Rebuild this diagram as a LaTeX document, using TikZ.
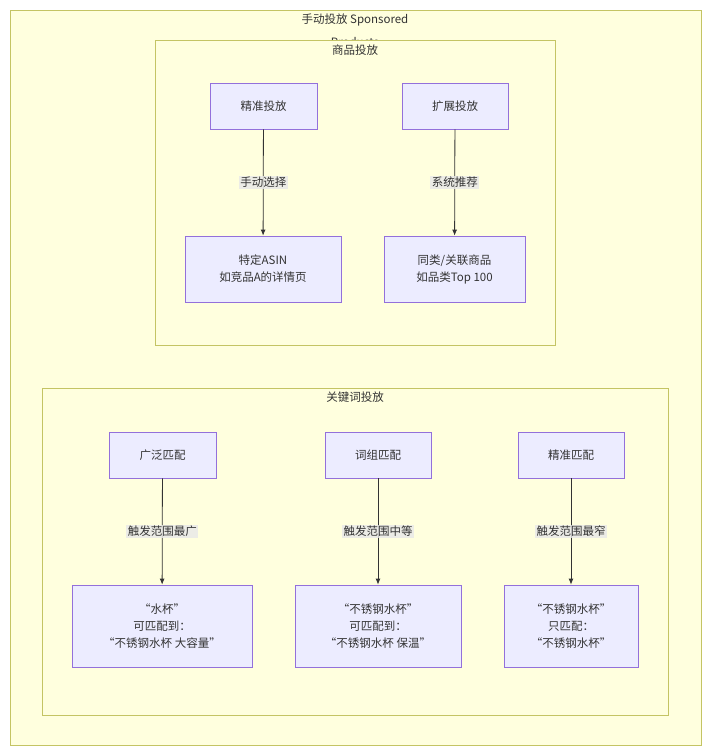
\documentclass[tikz,border=0pt]{standalone}
\usepackage{fontspec}
\setmainfont{Noto Sans CJK SC}
\begin{document}
\begin{tikzpicture}[x=1pt,y=-1pt,
  cl/.style={draw={rgb,255:red,196;green,196;blue,100},fill={rgb,255:red,255;green,255;blue,222},line width=0.8pt},
  nd/.style={draw={rgb,255:red,147;green,112;blue,219},fill={rgb,255:red,236;green,236;blue,255},line width=0.8pt,align=center,font=\fontsize{11.5}{17}\selectfont,text={rgb,255:red,51;green,51;blue,51}},
  lb/.style={fill={rgb,255:red,232;green,232;blue,232},fill opacity=0.8,text opacity=1,inner sep=1.5pt,font=\fontsize{11.5}{13}\selectfont,text={rgb,255:red,51;green,51;blue,51}},
  ti/.style={font=\fontsize{11.5}{13}\selectfont,text={rgb,255:red,51;green,51;blue,51}},
  ar/.style={draw={rgb,255:red,51;green,51;blue,51},line width=0.8pt,-{Latex[length=6pt,width=5pt]}}]
\usetikzlibrary{arrows.meta}
\useasboundingbox (0,0) rectangle (710,756);
\draw[cl] (10,10) rectangle (701,745);
\node[ti] (t0) at (355,20) {手动投放 Sponsored};
\node[ti] (t0b) at (355,42) {Products};
\draw[cl] (155,40) rectangle (555,345);
\node[ti] (t1) at (355,50) {商品投放};
\draw[cl] (42,388) rectangle (668,715);
\node[ti] (t2) at (355,397) {关键词投放};
\node[nd,minimum width=107pt,minimum height=46pt] (a1) at (263.5,106) {精准投放};
\node[nd,minimum width=106pt,minimum height=46pt] (a2) at (455,106) {扩展投放};
\node[nd,minimum width=156pt,minimum height=66pt] (b1) at (263,269) {特定ASIN\\如竞品A的详情页};
\node[nd,minimum width=141pt,minimum height=66pt] (b2) at (454.5,269) {同类/关联商品\\如品类Top 100};
\draw[ar] (a1) -- node[lb]{手动选择} (b1);
\draw[ar] (a2) -- node[lb]{系统推荐} (b2);
\node[nd,minimum width=107pt,minimum height=46pt] (c1) at (162.5,455) {广泛匹配};
\node[nd,minimum width=106pt,minimum height=46pt] (c2) at (378,455) {词组匹配};
\node[nd,minimum width=106pt,minimum height=46pt] (c3) at (571,455) {精准匹配};
\node[nd,minimum width=180pt,minimum height=82pt] (d1) at (162,626) {“水杯”\\可匹配到：\\“不锈钢水杯 大容量”};
\node[nd,minimum width=166pt,minimum height=82pt] (d2) at (378,626) {“不锈钢水杯”\\可匹配到：\\“不锈钢水杯 保温”};
\node[nd,minimum width=134pt,minimum height=82pt] (d3) at (571,626) {“不锈钢水杯”\\只匹配：\\“不锈钢水杯”};
\draw[ar] (c1) -- node[lb]{触发范围最广} (d1);
\draw[ar] (c2) -- node[lb]{触发范围中等} (d2);
\draw[ar] (c3) -- node[lb]{触发范围最窄} (d3);
\end{tikzpicture}
\end{document}
